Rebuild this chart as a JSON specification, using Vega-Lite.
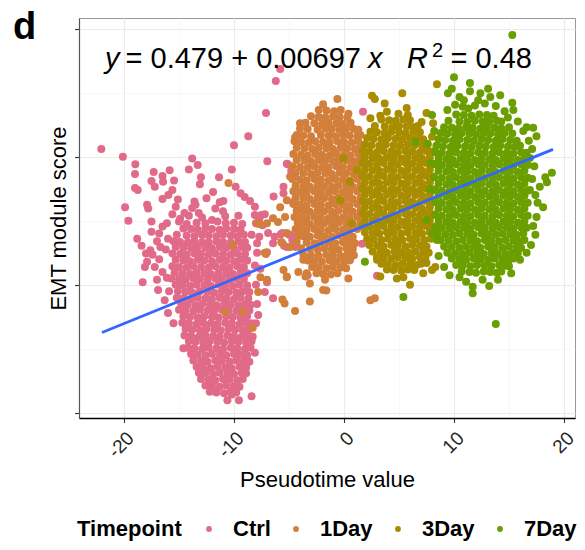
{
  "$schema": "https://vega.github.io/schema/vega-lite/v6.json",
  "width": 496,
  "height": 400,
  "autosize": {"type": "none"},
  "padding": {"left": 79, "top": 18, "right": 10, "bottom": 132},
  "title": {"text": "d", "anchor": "start", "frame": "group", "orient": "top", "offset": 0, "dx": -66, "dy": 59, "baseline": "alphabetic", "fontSize": 38, "fontWeight": "bold", "color": "black", "font": "Liberation Sans"},
  "config": {
    "font": "Liberation Sans",
    "view": {"stroke": "#999999", "strokeWidth": 1}
  },
  "datasets": {
    "ctrl": [
      {"x":-14.6,"y":0.488},{"x":-13.9,"y":0.487},{"x":-13.3,"y":0.486},{"x":-12.6,"y":0.488},{"x":-12.0,"y":0.487},{"x":-11.3,"y":0.486},{"x":-10.7,"y":0.488},{"x":-10.0,"y":0.487},{"x":-9.4,"y":0.486},
      {"x":-15.2,"y":0.478},{"x":-14.3,"y":0.477},{"x":-13.6,"y":0.476},{"x":-12.9,"y":0.478},{"x":-12.3,"y":0.477},{"x":-11.6,"y":0.476},{"x":-11.0,"y":0.478},{"x":-10.3,"y":0.477},{"x":-9.7,"y":0.476},{"x":-9.1,"y":0.478},
      {"x":-15.5,"y":0.468},{"x":-14.9,"y":0.467},{"x":-14.2,"y":0.466},{"x":-13.6,"y":0.468},{"x":-12.9,"y":0.467},{"x":-12.3,"y":0.466},{"x":-11.6,"y":0.468},{"x":-11.0,"y":0.467},{"x":-10.3,"y":0.466},{"x":-9.6,"y":0.468},{"x":-9.0,"y":0.467},
      {"x":-15.3,"y":0.459},{"x":-14.6,"y":0.458},{"x":-13.9,"y":0.457},{"x":-13.3,"y":0.459},{"x":-12.6,"y":0.458},{"x":-12.0,"y":0.457},{"x":-11.3,"y":0.459},{"x":-10.7,"y":0.458},{"x":-10.0,"y":0.457},{"x":-9.3,"y":0.459},{"x":-8.8,"y":0.458},
      {"x":-15.6,"y":0.449},{"x":-14.9,"y":0.448},{"x":-14.3,"y":0.447},{"x":-13.6,"y":0.449},{"x":-13.0,"y":0.448},{"x":-12.3,"y":0.447},{"x":-11.7,"y":0.449},{"x":-11.0,"y":0.448},{"x":-10.3,"y":0.447},{"x":-9.7,"y":0.449},{"x":-9.0,"y":0.448},
      {"x":-15.3,"y":0.439},{"x":-14.6,"y":0.438},{"x":-14.0,"y":0.437},{"x":-13.3,"y":0.439},{"x":-12.7,"y":0.438},{"x":-12.0,"y":0.437},{"x":-11.3,"y":0.439},{"x":-10.7,"y":0.438},{"x":-10.0,"y":0.437},{"x":-9.4,"y":0.439},{"x":-8.8,"y":0.438},
      {"x":-15.6,"y":0.429},{"x":-15.0,"y":0.428},{"x":-14.3,"y":0.427},{"x":-13.7,"y":0.429},{"x":-13.0,"y":0.428},{"x":-12.3,"y":0.427},{"x":-11.7,"y":0.429},{"x":-11.0,"y":0.428},{"x":-10.4,"y":0.427},{"x":-9.7,"y":0.429},{"x":-9.1,"y":0.428},
      {"x":-15.4,"y":0.419},{"x":-14.7,"y":0.418},{"x":-14.0,"y":0.417},{"x":-13.4,"y":0.419},{"x":-12.7,"y":0.418},{"x":-12.1,"y":0.417},{"x":-11.4,"y":0.419},{"x":-10.7,"y":0.418},{"x":-10.1,"y":0.417},{"x":-9.4,"y":0.419},{"x":-8.8,"y":0.418},
      {"x":-15.7,"y":0.410},{"x":-15.0,"y":0.409},{"x":-14.4,"y":0.408},{"x":-13.7,"y":0.410},{"x":-13.1,"y":0.409},{"x":-12.4,"y":0.408},{"x":-11.7,"y":0.410},{"x":-11.1,"y":0.409},{"x":-10.4,"y":0.408},{"x":-9.8,"y":0.410},{"x":-9.1,"y":0.409},
      {"x":-15.3,"y":0.400},{"x":-14.7,"y":0.399},{"x":-14.0,"y":0.398},{"x":-13.4,"y":0.400},{"x":-12.7,"y":0.399},{"x":-12.1,"y":0.398},{"x":-11.4,"y":0.400},{"x":-10.8,"y":0.399},{"x":-10.1,"y":0.398},{"x":-9.5,"y":0.400},{"x":-8.8,"y":0.399},
      {"x":-15.1,"y":0.390},{"x":-14.4,"y":0.389},{"x":-13.8,"y":0.388},{"x":-13.1,"y":0.390},{"x":-12.4,"y":0.389},{"x":-11.8,"y":0.388},{"x":-11.1,"y":0.390},{"x":-10.5,"y":0.389},{"x":-9.8,"y":0.388},{"x":-9.2,"y":0.390},{"x":-8.6,"y":0.389},
      {"x":-15.2,"y":0.380},{"x":-14.6,"y":0.379},{"x":-13.9,"y":0.378},{"x":-13.3,"y":0.380},{"x":-12.6,"y":0.379},{"x":-12.0,"y":0.378},{"x":-11.3,"y":0.380},{"x":-10.7,"y":0.379},{"x":-10.0,"y":0.378},{"x":-9.4,"y":0.380},{"x":-8.7,"y":0.379},
      {"x":-14.8,"y":0.370},{"x":-14.2,"y":0.369},{"x":-13.5,"y":0.368},{"x":-12.9,"y":0.370},{"x":-12.2,"y":0.369},{"x":-11.6,"y":0.368},{"x":-10.9,"y":0.370},{"x":-10.3,"y":0.369},{"x":-9.6,"y":0.368},{"x":-9.0,"y":0.370},{"x":-8.5,"y":0.369},
      {"x":-15.0,"y":0.361},{"x":-14.4,"y":0.360},{"x":-13.7,"y":0.359},{"x":-13.1,"y":0.361},{"x":-12.4,"y":0.360},{"x":-11.8,"y":0.359},{"x":-11.1,"y":0.361},{"x":-10.5,"y":0.360},{"x":-9.8,"y":0.359},{"x":-9.2,"y":0.361},{"x":-8.6,"y":0.360},
      {"x":-14.6,"y":0.351},{"x":-14.0,"y":0.350},{"x":-13.3,"y":0.349},{"x":-12.7,"y":0.351},{"x":-12.0,"y":0.350},{"x":-11.4,"y":0.349},{"x":-10.7,"y":0.351},{"x":-10.1,"y":0.350},{"x":-9.4,"y":0.349},{"x":-8.8,"y":0.351},
      {"x":-14.7,"y":0.341},{"x":-14.1,"y":0.340},{"x":-13.4,"y":0.339},{"x":-12.8,"y":0.341},{"x":-12.1,"y":0.340},{"x":-11.5,"y":0.339},{"x":-10.8,"y":0.341},{"x":-10.2,"y":0.340},{"x":-9.5,"y":0.339},{"x":-8.9,"y":0.341},{"x":-8.4,"y":0.340},
      {"x":-14.4,"y":0.331},{"x":-13.8,"y":0.330},{"x":-13.1,"y":0.329},{"x":-12.5,"y":0.331},{"x":-11.8,"y":0.330},{"x":-11.2,"y":0.329},{"x":-10.5,"y":0.331},{"x":-9.9,"y":0.330},{"x":-9.2,"y":0.329},{"x":-8.6,"y":0.331},
      {"x":-14.5,"y":0.321},{"x":-13.9,"y":0.320},{"x":-13.2,"y":0.319},{"x":-12.6,"y":0.321},{"x":-11.9,"y":0.320},{"x":-11.3,"y":0.319},{"x":-10.6,"y":0.321},{"x":-10.0,"y":0.320},{"x":-9.3,"y":0.319},{"x":-8.7,"y":0.321},
      {"x":-14.1,"y":0.312},{"x":-13.5,"y":0.311},{"x":-12.8,"y":0.310},{"x":-12.2,"y":0.312},{"x":-11.5,"y":0.311},{"x":-10.9,"y":0.310},{"x":-10.2,"y":0.312},{"x":-9.6,"y":0.311},{"x":-8.9,"y":0.310},{"x":-8.4,"y":0.312},
      {"x":-14.2,"y":0.302},{"x":-13.6,"y":0.301},{"x":-12.9,"y":0.300},{"x":-12.3,"y":0.302},{"x":-11.6,"y":0.301},{"x":-11.0,"y":0.300},{"x":-10.3,"y":0.302},{"x":-9.7,"y":0.301},{"x":-9.0,"y":0.300},{"x":-8.5,"y":0.302},
      {"x":-13.9,"y":0.292},{"x":-13.3,"y":0.291},{"x":-12.6,"y":0.290},{"x":-12.0,"y":0.292},{"x":-11.3,"y":0.291},{"x":-10.7,"y":0.290},{"x":-10.0,"y":0.292},{"x":-9.4,"y":0.291},{"x":-8.8,"y":0.290},
      {"x":-13.7,"y":0.282},{"x":-13.0,"y":0.281},{"x":-12.4,"y":0.280},{"x":-11.7,"y":0.282},{"x":-11.1,"y":0.281},{"x":-10.4,"y":0.280},{"x":-9.8,"y":0.282},{"x":-9.1,"y":0.281},{"x":-8.6,"y":0.280},
      {"x":-13.4,"y":0.272},{"x":-12.8,"y":0.271},{"x":-12.1,"y":0.270},{"x":-11.5,"y":0.272},{"x":-10.8,"y":0.271},{"x":-10.2,"y":0.270},{"x":-9.5,"y":0.272},{"x":-8.9,"y":0.271},
      {"x":-13.2,"y":0.263},{"x":-12.6,"y":0.262},{"x":-11.9,"y":0.261},{"x":-11.3,"y":0.263},{"x":-10.6,"y":0.262},{"x":-10.0,"y":0.261},{"x":-9.3,"y":0.263},{"x":-8.9,"y":0.262},
      {"x":-13.0,"y":0.253},{"x":-12.3,"y":0.252},{"x":-11.7,"y":0.251},{"x":-11.0,"y":0.253},{"x":-10.4,"y":0.252},{"x":-9.7,"y":0.251},{"x":-9.2,"y":0.253},
      {"x":-12.6,"y":0.243},{"x":-12.0,"y":0.242},{"x":-11.3,"y":0.241},{"x":-10.7,"y":0.243},{"x":-10.0,"y":0.242},{"x":-9.5,"y":0.241},
      {"x":-12.2,"y":0.233},{"x":-11.6,"y":0.232},{"x":-10.9,"y":0.231},{"x":-10.3,"y":0.233},{"x":-9.8,"y":0.232},
      {"x":-11.9,"y":0.236},{"x":-10.6,"y":0.220},{"x":-10.2,"y":0.229},{"x":-9.55,"y":0.220},{"x":-8.4,"y":0.226},
      {"x":-5.8,"y":0.737},{"x":-6.2,"y":0.718},{"x":-7.09,"y":0.668},{"x":-8.7,"y":0.632},{"x":-10.0,"y":0.618},{"x":-22.06,"y":0.612},{"x":-20.1,"y":0.600},{"x":-6.97,"y":0.593},{"x":-18.97,"y":0.588},{"x":-19.0,"y":0.573},
      {"x":-13.8,"y":0.597},{"x":-14.1,"y":0.580},{"x":-13.3,"y":0.587},{"x":-17.3,"y":0.576},{"x":-15.85,"y":0.579},{"x":-16.5,"y":0.570},{"x":-16.45,"y":0.561},{"x":-15.45,"y":0.563},{"x":-17.5,"y":0.562},{"x":-13.0,"y":0.568},
      {"x":-11.36,"y":0.568},{"x":-10.2,"y":0.580},{"x":-13.1,"y":0.557},{"x":-19.0,"y":0.551},{"x":-18.75,"y":0.548},{"x":-17.2,"y":0.553},{"x":-15.6,"y":0.548},{"x":-15.97,"y":0.540},{"x":-11.9,"y":0.545},{"x":-16.5,"y":0.534},
      {"x":-15.1,"y":0.533},{"x":-13.6,"y":0.530},{"x":-13.5,"y":0.525},{"x":-12.5,"y":0.535},{"x":-10.97,"y":0.531},{"x":-11.3,"y":0.529},{"x":-9.85,"y":0.553},{"x":-9.4,"y":0.543},{"x":-9.03,"y":0.537},{"x":-8.55,"y":0.531},
      {"x":-19.9,"y":0.521},{"x":-17.9,"y":0.525},{"x":-17.8,"y":0.519},{"x":-15.3,"y":0.522},{"x":-14.5,"y":0.512},{"x":-14.1,"y":0.508},{"x":-13.8,"y":0.520},{"x":-11.7,"y":0.519},{"x":-10.8,"y":0.507},{"x":-8.1,"y":0.522},
      {"x":-7.5,"y":0.509},{"x":-7.2,"y":0.510},{"x":-19.6,"y":0.500},{"x":-17.5,"y":0.499},{"x":-17.5,"y":0.483},{"x":-15.6,"y":0.510},{"x":-15.0,"y":0.499},{"x":-16.5,"y":0.491},{"x":-16.1,"y":0.496},{"x":-13.2,"y":0.512},
      {"x":-13.4,"y":0.497},{"x":-12.6,"y":0.496},{"x":-11.5,"y":0.499},{"x":-10.75,"y":0.496},{"x":-10.0,"y":0.497},{"x":-9.25,"y":0.495},{"x":-8.0,"y":0.496},{"x":-7.7,"y":0.475},{"x":-7.9,"y":0.465},{"x":-8.4,"y":0.478},
      {"x":-7.7,"y":0.503},{"x":-18.4,"y":0.461},{"x":-17.4,"y":0.447},{"x":-16.7,"y":0.459},{"x":-18.0,"y":0.449},{"x":-5.1,"y":0.588},{"x":-6.4,"y":0.538},{"x":-5.5,"y":0.553},{"x":-5.5,"y":0.543},{"x":-6.3,"y":0.475},
      {"x":-5.75,"y":0.479},{"x":-5.0,"y":0.478},{"x":-5.45,"y":0.461},{"x":-4.7,"y":0.470},{"x":-4.4,"y":0.480},{"x":-4.8,"y":0.578},{"x":-4.5,"y":0.569},{"x":-4.45,"y":0.531},
      {"x":-8.1,"y":0.509},{"x":-7.4,"y":0.493},{"x":-6.9,"y":0.481},{"x":-6.45,"y":0.465},{"x":-7.0,"y":0.451},{"x":-7.9,"y":0.450},{"x":-7.0,"y":0.404},{"x":-7.2,"y":0.389},{"x":-6.45,"y":0.379},{"x":-7.8,"y":0.353},
      {"x":-8.3,"y":0.319},{"x":-8.1,"y":0.294},{"x":-8.7,"y":0.333},{"x":-8.0,"y":0.400},{"x":-7.9,"y":0.370},{"x":-8.0,"y":0.340},{"x":-8.1,"y":0.430},{"x":-7.6,"y":0.425},
      {"x":-18.3,"y":0.404},{"x":-18.1,"y":0.428},{"x":-17.6,"y":0.454},{"x":-17.0,"y":0.408},{"x":-17.2,"y":0.428},{"x":-16.1,"y":0.411},{"x":-15.5,"y":0.340},{"x":-14.6,"y":0.301},{"x":-16.0,"y":0.356},{"x":-16.3,"y":0.376},
      {"x":-14.9,"y":0.503},{"x":-12.9,"y":0.505},{"x":-12.0,"y":0.501},{"x":-11.0,"y":0.515},{"x":-9.6,"y":0.508},{"x":-14.3,"y":0.495},{"x":-16.8,"y":0.480},{"x":-17.0,"y":0.468},{"x":-16.0,"y":0.472},{"x":-18.8,"y":0.472},
      {"x":-17.9,"y":0.436},{"x":-16.8,"y":0.440},{"x":-16.9,"y":0.392},{"x":-16.5,"y":0.420},{"x":-15.9,"y":0.390},{"x":-16.2,"y":0.455},
      {"x":-5.6,"y":0.481},{"x":-4.45,"y":0.481},{"x":-5.2,"y":0.459},{"x":-4.4,"y":0.459},{"x":1.64,"y":0.464},{"x":3.0,"y":0.414},{"x":0.55,"y":0.439},{"x":-3.3,"y":0.415},{"x":1.73,"y":0.670},{"x":-5.2,"y":0.589},{"x":-4.6,"y":0.529}
    ],
    "day1": [
      {"x":-2.3,"y":0.673},{"x":-1.6,"y":0.672},{"x":-0.9,"y":0.671},{"x":-0.3,"y":0.673},
      {"x":-3.0,"y":0.663},{"x":-2.3,"y":0.662},{"x":-1.7,"y":0.661},{"x":-1.0,"y":0.663},{"x":-0.4,"y":0.662},{"x":0.3,"y":0.661},
      {"x":-3.5,"y":0.653},{"x":-2.7,"y":0.652},{"x":-2.0,"y":0.651},{"x":-1.4,"y":0.653},{"x":-0.7,"y":0.652},{"x":-0.1,"y":0.651},{"x":0.6,"y":0.653},
      {"x":-4.0,"y":0.644},{"x":-3.3,"y":0.643},{"x":-2.4,"y":0.642},{"x":-1.7,"y":0.644},{"x":-1.1,"y":0.643},{"x":-0.4,"y":0.642},{"x":0.2,"y":0.644},{"x":0.9,"y":0.643},{"x":1.3,"y":0.642},
      {"x":-4.3,"y":0.634},{"x":-3.7,"y":0.633},{"x":-3.0,"y":0.632},{"x":-2.1,"y":0.634},{"x":-1.4,"y":0.633},{"x":-0.8,"y":0.632},{"x":-0.1,"y":0.634},{"x":0.5,"y":0.633},{"x":1.2,"y":0.632},{"x":1.5,"y":0.634},
      {"x":-4.5,"y":0.624},{"x":-3.9,"y":0.623},{"x":-3.2,"y":0.622},{"x":-2.6,"y":0.624},{"x":-1.9,"y":0.623},{"x":-1.3,"y":0.622},{"x":-0.6,"y":0.624},{"x":0.0,"y":0.623},{"x":0.7,"y":0.622},{"x":1.3,"y":0.624},
      {"x":-4.3,"y":0.614},{"x":-3.6,"y":0.613},{"x":-2.9,"y":0.612},{"x":-2.3,"y":0.614},{"x":-1.6,"y":0.613},{"x":-1.0,"y":0.612},{"x":-0.3,"y":0.614},{"x":0.3,"y":0.613},{"x":1.0,"y":0.612},{"x":1.5,"y":0.614},
      {"x":-4.6,"y":0.604},{"x":-3.9,"y":0.603},{"x":-3.3,"y":0.602},{"x":-2.6,"y":0.604},{"x":-2.0,"y":0.603},{"x":-1.3,"y":0.602},{"x":-0.7,"y":0.604},{"x":0.0,"y":0.603},{"x":0.6,"y":0.602},{"x":1.3,"y":0.604},
      {"x":-4.3,"y":0.595},{"x":-3.6,"y":0.594},{"x":-3.0,"y":0.593},{"x":-2.3,"y":0.595},{"x":-1.7,"y":0.594},{"x":-1.0,"y":0.593},{"x":-0.4,"y":0.595},{"x":0.3,"y":0.594},{"x":0.9,"y":0.593},{"x":1.5,"y":0.595},
      {"x":-4.7,"y":0.585},{"x":-4.0,"y":0.584},{"x":-3.3,"y":0.583},{"x":-2.7,"y":0.585},{"x":-2.0,"y":0.584},{"x":-1.4,"y":0.583},{"x":-0.7,"y":0.585},{"x":-0.1,"y":0.584},{"x":0.6,"y":0.583},{"x":1.2,"y":0.585},
      {"x":-4.4,"y":0.575},{"x":-3.7,"y":0.574},{"x":-3.0,"y":0.573},{"x":-2.4,"y":0.575},{"x":-1.7,"y":0.574},{"x":-1.1,"y":0.573},{"x":-0.4,"y":0.575},{"x":0.2,"y":0.574},{"x":0.9,"y":0.573},{"x":1.5,"y":0.575},
      {"x":-4.7,"y":0.565},{"x":-4.0,"y":0.564},{"x":-3.4,"y":0.563},{"x":-2.7,"y":0.565},{"x":-2.1,"y":0.564},{"x":-1.4,"y":0.563},{"x":-0.8,"y":0.565},{"x":-0.1,"y":0.564},{"x":0.5,"y":0.563},{"x":1.2,"y":0.565},
      {"x":-4.4,"y":0.555},{"x":-3.7,"y":0.554},{"x":-3.1,"y":0.553},{"x":-2.4,"y":0.555},{"x":-1.8,"y":0.554},{"x":-1.1,"y":0.553},{"x":-0.5,"y":0.555},{"x":0.2,"y":0.554},{"x":0.8,"y":0.553},{"x":1.5,"y":0.555},
      {"x":-4.6,"y":0.546},{"x":-4.0,"y":0.545},{"x":-3.4,"y":0.544},{"x":-2.7,"y":0.546},{"x":-2.1,"y":0.545},{"x":-1.4,"y":0.544},{"x":-0.8,"y":0.546},{"x":-0.1,"y":0.545},{"x":0.5,"y":0.544},{"x":1.2,"y":0.546},
      {"x":-4.4,"y":0.536},{"x":-3.7,"y":0.535},{"x":-3.1,"y":0.534},{"x":-2.4,"y":0.536},{"x":-1.8,"y":0.535},{"x":-1.1,"y":0.534},{"x":-0.5,"y":0.536},{"x":0.2,"y":0.535},{"x":0.8,"y":0.534},{"x":1.5,"y":0.536},
      {"x":-4.6,"y":0.526},{"x":-4.0,"y":0.525},{"x":-3.4,"y":0.524},{"x":-2.7,"y":0.526},{"x":-2.1,"y":0.525},{"x":-1.4,"y":0.524},{"x":-0.8,"y":0.526},{"x":-0.1,"y":0.525},{"x":0.5,"y":0.524},{"x":1.2,"y":0.526},
      {"x":-4.3,"y":0.516},{"x":-3.7,"y":0.515},{"x":-3.1,"y":0.514},{"x":-2.4,"y":0.516},{"x":-1.8,"y":0.515},{"x":-1.1,"y":0.514},{"x":-0.5,"y":0.516},{"x":0.2,"y":0.515},{"x":0.8,"y":0.514},{"x":1.5,"y":0.516},
      {"x":-4.5,"y":0.506},{"x":-4.0,"y":0.505},{"x":-3.4,"y":0.504},{"x":-2.7,"y":0.506},{"x":-2.1,"y":0.505},{"x":-1.4,"y":0.504},{"x":-0.8,"y":0.506},{"x":-0.1,"y":0.505},{"x":0.5,"y":0.504},{"x":1.2,"y":0.506},
      {"x":-4.2,"y":0.497},{"x":-3.7,"y":0.496},{"x":-3.1,"y":0.495},{"x":-2.4,"y":0.497},{"x":-1.8,"y":0.496},{"x":-1.1,"y":0.495},{"x":-0.5,"y":0.497},{"x":0.2,"y":0.496},{"x":0.8,"y":0.495},{"x":1.5,"y":0.497},
      {"x":-4.4,"y":0.487},{"x":-4.0,"y":0.486},{"x":-3.4,"y":0.485},{"x":-2.7,"y":0.487},{"x":-2.1,"y":0.486},{"x":-1.4,"y":0.485},{"x":-0.8,"y":0.487},{"x":-0.1,"y":0.486},{"x":0.5,"y":0.485},{"x":1.2,"y":0.487},
      {"x":-4.1,"y":0.477},{"x":-3.7,"y":0.476},{"x":-3.1,"y":0.475},{"x":-2.4,"y":0.477},{"x":-1.8,"y":0.476},{"x":-1.1,"y":0.475},{"x":-0.5,"y":0.477},{"x":0.2,"y":0.476},{"x":0.8,"y":0.475},
      {"x":-4.3,"y":0.467},{"x":-3.4,"y":0.466},{"x":-2.7,"y":0.465},{"x":-2.1,"y":0.467},{"x":-1.4,"y":0.466},{"x":-0.8,"y":0.465},{"x":-0.1,"y":0.467},{"x":0.5,"y":0.466},{"x":1.0,"y":0.465},
      {"x":-3.9,"y":0.457},{"x":-3.1,"y":0.456},{"x":-2.4,"y":0.455},{"x":-1.8,"y":0.457},{"x":-1.1,"y":0.456},{"x":-0.5,"y":0.455},{"x":0.2,"y":0.457},{"x":0.8,"y":0.456},
      {"x":-3.7,"y":0.447},{"x":-3.0,"y":0.446},{"x":-2.3,"y":0.445},{"x":-1.6,"y":0.447},{"x":-1.0,"y":0.446},{"x":-0.3,"y":0.445},{"x":0.3,"y":0.447},{"x":0.9,"y":0.446},
      {"x":-3.3,"y":0.438},{"x":-2.7,"y":0.437},{"x":-2.0,"y":0.436},{"x":-1.3,"y":0.438},{"x":-0.7,"y":0.437},{"x":0.0,"y":0.436},{"x":0.5,"y":0.438},
      {"x":-2.9,"y":0.428},{"x":-2.3,"y":0.427},{"x":-1.6,"y":0.426},{"x":-1.0,"y":0.428},{"x":-0.3,"y":0.427},{"x":0.2,"y":0.426},
      {"x":-2.5,"y":0.418},{"x":-1.9,"y":0.417},{"x":-1.2,"y":0.416},{"x":-0.6,"y":0.418},
      {"x":-0.6,"y":0.690},{"x":0.4,"y":0.667},{"x":-1.9,"y":0.682},{"x":-4.0,"y":0.652},{"x":-4.45,"y":0.630},{"x":-4.9,"y":0.569},{"x":-5.2,"y":0.532},{"x":-5.36,"y":0.506},{"x":-4.9,"y":0.459},{"x":-3.7,"y":0.439},
      {"x":-1.73,"y":0.408},{"x":0.4,"y":0.410},{"x":-3.4,"y":0.418},{"x":-1.9,"y":0.392},{"x":-1.6,"y":0.391},{"x":2.4,"y":0.376},{"x":2.8,"y":0.379},{"x":-4.45,"y":0.359},{"x":-3.1,"y":0.374},{"x":-5.4,"y":0.371},
      {"x":-5.6,"y":0.377},{"x":-3.1,"y":0.402},{"x":-3.5,"y":0.413},{"x":-5.2,"y":0.413},{"x":-4.15,"y":0.420},
      {"x":-10.5,"y":0.559},{"x":-7.7,"y":0.495},{"x":-6.0,"y":0.498},{"x":-10.1,"y":0.462},{"x":-7.1,"y":0.448},{"x":-5.7,"y":0.467},{"x":-10.8,"y":0.358},{"x":-9.2,"y":0.358},{"x":-8.3,"y":0.333},{"x":-7.8,"y":0.389},
      {"x":-7.9,"y":0.496},{"x":-7.0,"y":0.496},{"x":-6.45,"y":0.504},{"x":-7.2,"y":0.450},{"x":-7.6,"y":0.412},{"x":-7.0,"y":0.408},{"x":-5.6,"y":0.465},{"x":-5.2,"y":0.481},{"x":-5.5,"y":0.423},{"x":-5.2,"y":0.412},{"x":-5.8,"y":0.521}
    ],
    "day3": [
      {"x":3.4,"y":0.658},{"x":4.1,"y":0.657},{"x":4.7,"y":0.656},{"x":5.4,"y":0.658},{"x":6.0,"y":0.657},
      {"x":2.8,"y":0.648},{"x":3.7,"y":0.647},{"x":4.4,"y":0.646},{"x":5.0,"y":0.648},{"x":5.7,"y":0.647},{"x":6.3,"y":0.646},{"x":6.7,"y":0.648},
      {"x":2.4,"y":0.639},{"x":3.0,"y":0.638},{"x":3.7,"y":0.637},{"x":4.3,"y":0.639},{"x":5.0,"y":0.638},{"x":5.6,"y":0.637},{"x":6.3,"y":0.639},{"x":6.9,"y":0.638},
      {"x":2.1,"y":0.629},{"x":2.7,"y":0.628},{"x":3.4,"y":0.627},{"x":4.0,"y":0.629},{"x":4.7,"y":0.628},{"x":5.3,"y":0.627},{"x":6.0,"y":0.629},{"x":6.6,"y":0.628},{"x":7.2,"y":0.627},
      {"x":1.9,"y":0.619},{"x":2.5,"y":0.618},{"x":3.2,"y":0.617},{"x":3.8,"y":0.619},{"x":4.5,"y":0.618},{"x":5.1,"y":0.617},{"x":5.8,"y":0.619},{"x":6.4,"y":0.618},{"x":7.1,"y":0.617},{"x":7.6,"y":0.619},
      {"x":1.7,"y":0.609},{"x":2.3,"y":0.608},{"x":3.0,"y":0.607},{"x":3.6,"y":0.609},{"x":4.3,"y":0.608},{"x":4.9,"y":0.607},{"x":5.6,"y":0.609},{"x":6.2,"y":0.608},{"x":6.9,"y":0.607},{"x":7.5,"y":0.609},{"x":8.0,"y":0.608},
      {"x":1.9,"y":0.599},{"x":2.6,"y":0.598},{"x":3.2,"y":0.597},{"x":3.9,"y":0.599},{"x":4.5,"y":0.598},{"x":5.2,"y":0.597},{"x":5.8,"y":0.599},{"x":6.5,"y":0.598},{"x":7.1,"y":0.597},{"x":7.8,"y":0.599},
      {"x":1.7,"y":0.590},{"x":2.3,"y":0.589},{"x":3.0,"y":0.588},{"x":3.6,"y":0.590},{"x":4.3,"y":0.589},{"x":4.9,"y":0.588},{"x":5.6,"y":0.590},{"x":6.2,"y":0.589},{"x":6.9,"y":0.588},{"x":7.5,"y":0.590},{"x":8.1,"y":0.589},
      {"x":1.9,"y":0.580},{"x":2.6,"y":0.579},{"x":3.2,"y":0.578},{"x":3.9,"y":0.580},{"x":4.5,"y":0.579},{"x":5.2,"y":0.578},{"x":5.8,"y":0.580},{"x":6.5,"y":0.579},{"x":7.1,"y":0.578},{"x":7.8,"y":0.580},
      {"x":1.7,"y":0.570},{"x":2.3,"y":0.569},{"x":3.0,"y":0.568},{"x":3.6,"y":0.570},{"x":4.3,"y":0.569},{"x":4.9,"y":0.568},{"x":5.6,"y":0.570},{"x":6.2,"y":0.569},{"x":6.9,"y":0.568},{"x":7.5,"y":0.570},{"x":8.1,"y":0.569},
      {"x":1.9,"y":0.560},{"x":2.6,"y":0.559},{"x":3.2,"y":0.558},{"x":3.9,"y":0.560},{"x":4.5,"y":0.559},{"x":5.2,"y":0.558},{"x":5.8,"y":0.560},{"x":6.5,"y":0.559},{"x":7.1,"y":0.558},{"x":7.8,"y":0.560},
      {"x":1.7,"y":0.550},{"x":2.3,"y":0.549},{"x":3.0,"y":0.548},{"x":3.6,"y":0.550},{"x":4.3,"y":0.549},{"x":4.9,"y":0.548},{"x":5.6,"y":0.550},{"x":6.2,"y":0.549},{"x":6.9,"y":0.548},{"x":7.5,"y":0.550},{"x":8.1,"y":0.549},
      {"x":1.9,"y":0.541},{"x":2.6,"y":0.540},{"x":3.2,"y":0.539},{"x":3.9,"y":0.541},{"x":4.5,"y":0.540},{"x":5.2,"y":0.539},{"x":5.8,"y":0.541},{"x":6.5,"y":0.540},{"x":7.1,"y":0.539},{"x":7.8,"y":0.541},
      {"x":1.7,"y":0.531},{"x":2.3,"y":0.530},{"x":3.0,"y":0.529},{"x":3.6,"y":0.531},{"x":4.3,"y":0.530},{"x":4.9,"y":0.529},{"x":5.6,"y":0.531},{"x":6.2,"y":0.530},{"x":6.9,"y":0.529},{"x":7.5,"y":0.531},{"x":8.1,"y":0.530},
      {"x":1.9,"y":0.521},{"x":2.6,"y":0.520},{"x":3.2,"y":0.519},{"x":3.9,"y":0.521},{"x":4.5,"y":0.520},{"x":5.2,"y":0.519},{"x":5.8,"y":0.521},{"x":6.5,"y":0.520},{"x":7.1,"y":0.519},{"x":7.8,"y":0.521},
      {"x":1.7,"y":0.511},{"x":2.3,"y":0.510},{"x":3.0,"y":0.509},{"x":3.6,"y":0.511},{"x":4.3,"y":0.510},{"x":4.9,"y":0.509},{"x":5.6,"y":0.511},{"x":6.2,"y":0.510},{"x":6.9,"y":0.509},{"x":7.5,"y":0.511},{"x":8.1,"y":0.510},
      {"x":1.9,"y":0.501},{"x":2.6,"y":0.500},{"x":3.2,"y":0.499},{"x":3.9,"y":0.501},{"x":4.5,"y":0.500},{"x":5.2,"y":0.499},{"x":5.8,"y":0.501},{"x":6.5,"y":0.500},{"x":7.1,"y":0.499},{"x":7.8,"y":0.501},
      {"x":1.7,"y":0.492},{"x":2.3,"y":0.491},{"x":3.0,"y":0.490},{"x":3.6,"y":0.492},{"x":4.3,"y":0.491},{"x":4.9,"y":0.490},{"x":5.6,"y":0.492},{"x":6.2,"y":0.491},{"x":6.9,"y":0.490},{"x":7.5,"y":0.492},{"x":8.1,"y":0.491},
      {"x":1.9,"y":0.482},{"x":2.6,"y":0.481},{"x":3.2,"y":0.480},{"x":3.9,"y":0.482},{"x":4.5,"y":0.481},{"x":5.2,"y":0.480},{"x":5.8,"y":0.482},{"x":6.5,"y":0.481},{"x":7.1,"y":0.480},{"x":7.8,"y":0.482},
      {"x":2.1,"y":0.472},{"x":2.7,"y":0.471},{"x":3.4,"y":0.470},{"x":4.0,"y":0.472},{"x":4.7,"y":0.471},{"x":5.3,"y":0.470},{"x":6.0,"y":0.472},{"x":6.6,"y":0.471},{"x":7.3,"y":0.470},{"x":7.9,"y":0.472},
      {"x":2.3,"y":0.462},{"x":3.0,"y":0.461},{"x":3.6,"y":0.460},{"x":4.3,"y":0.462},{"x":4.9,"y":0.461},{"x":5.6,"y":0.460},{"x":6.2,"y":0.462},{"x":6.9,"y":0.461},{"x":7.5,"y":0.460},
      {"x":2.6,"y":0.452},{"x":3.3,"y":0.451},{"x":3.9,"y":0.450},{"x":4.6,"y":0.452},{"x":5.2,"y":0.451},{"x":5.9,"y":0.450},{"x":6.5,"y":0.452},{"x":7.2,"y":0.451},{"x":7.7,"y":0.450},
      {"x":3.0,"y":0.443},{"x":3.6,"y":0.442},{"x":4.3,"y":0.441},{"x":4.9,"y":0.443},{"x":5.6,"y":0.442},{"x":6.2,"y":0.441},{"x":6.9,"y":0.443},{"x":7.4,"y":0.442},
      {"x":3.4,"y":0.433},{"x":4.0,"y":0.432},{"x":4.7,"y":0.431},{"x":5.3,"y":0.433},{"x":6.0,"y":0.432},{"x":6.6,"y":0.431},{"x":7.0,"y":0.433},
      {"x":3.9,"y":0.424},{"x":4.5,"y":0.423},{"x":5.2,"y":0.422},{"x":5.8,"y":0.424},{"x":6.4,"y":0.423},
      {"x":8.45,"y":0.713},{"x":5.3,"y":0.699},{"x":2.55,"y":0.695},{"x":2.8,"y":0.690},{"x":5.7,"y":0.676},{"x":3.7,"y":0.683},{"x":3.9,"y":0.670},{"x":3.3,"y":0.664},{"x":4.95,"y":0.667},{"x":5.8,"y":0.665},
      {"x":7.06,"y":0.654},{"x":7.5,"y":0.668},{"x":8.1,"y":0.652},{"x":8.0,"y":0.631},{"x":2.4,"y":0.660},
      {"x":-0.06,"y":0.597},{"x":0.55,"y":0.561},{"x":-0.36,"y":0.532},{"x":0.7,"y":0.496},{"x":1.15,"y":0.579},
      {"x":6.0,"y":0.400},{"x":4.8,"y":0.410},{"x":8.0,"y":0.423},{"x":7.2,"y":0.418},{"x":3.3,"y":0.413},{"x":5.4,"y":0.412},{"x":8.3,"y":0.428},{"x":7.5,"y":0.434},{"x":3.0,"y":0.439}
    ],
    "day7": [
      {"x":10.2,"y":0.666},{"x":10.9,"y":0.665},{"x":11.6,"y":0.664},{"x":12.3,"y":0.666},{"x":13.0,"y":0.665},{"x":13.6,"y":0.664},
      {"x":9.5,"y":0.656},{"x":10.5,"y":0.655},{"x":11.2,"y":0.654},{"x":11.9,"y":0.656},{"x":12.6,"y":0.655},{"x":13.2,"y":0.654},{"x":13.9,"y":0.656},{"x":14.3,"y":0.655},
      {"x":9.1,"y":0.646},{"x":9.8,"y":0.645},{"x":10.4,"y":0.644},{"x":11.1,"y":0.646},{"x":11.7,"y":0.645},{"x":12.4,"y":0.644},{"x":13.0,"y":0.646},{"x":13.7,"y":0.645},{"x":14.3,"y":0.644},{"x":15.0,"y":0.646},
      {"x":8.8,"y":0.637},{"x":9.4,"y":0.636},{"x":10.1,"y":0.635},{"x":10.7,"y":0.637},{"x":11.4,"y":0.636},{"x":12.0,"y":0.635},{"x":12.7,"y":0.637},{"x":13.3,"y":0.636},{"x":14.0,"y":0.635},{"x":14.6,"y":0.637},{"x":15.3,"y":0.636},
      {"x":8.6,"y":0.627},{"x":9.2,"y":0.626},{"x":9.9,"y":0.625},{"x":10.5,"y":0.627},{"x":11.2,"y":0.626},{"x":11.8,"y":0.625},{"x":12.5,"y":0.627},{"x":13.1,"y":0.626},{"x":13.8,"y":0.625},{"x":14.4,"y":0.627},{"x":15.1,"y":0.626},{"x":15.7,"y":0.625},
      {"x":8.4,"y":0.617},{"x":9.0,"y":0.616},{"x":9.7,"y":0.615},{"x":10.3,"y":0.617},{"x":11.0,"y":0.616},{"x":11.6,"y":0.615},{"x":12.3,"y":0.617},{"x":12.9,"y":0.616},{"x":13.6,"y":0.615},{"x":14.2,"y":0.617},{"x":14.9,"y":0.616},{"x":15.5,"y":0.615},{"x":16.0,"y":0.617},
      {"x":8.3,"y":0.607},{"x":8.9,"y":0.606},{"x":9.6,"y":0.605},{"x":10.2,"y":0.607},{"x":10.9,"y":0.606},{"x":11.5,"y":0.605},{"x":12.2,"y":0.607},{"x":12.8,"y":0.606},{"x":13.5,"y":0.605},{"x":14.1,"y":0.607},{"x":14.8,"y":0.606},{"x":15.4,"y":0.605},{"x":16.1,"y":0.607},{"x":16.6,"y":0.606},
      {"x":8.6,"y":0.597},{"x":9.3,"y":0.596},{"x":9.9,"y":0.595},{"x":10.6,"y":0.597},{"x":11.2,"y":0.596},{"x":11.9,"y":0.595},{"x":12.5,"y":0.597},{"x":13.2,"y":0.596},{"x":13.8,"y":0.595},{"x":14.5,"y":0.597},{"x":15.1,"y":0.596},{"x":15.8,"y":0.595},{"x":16.4,"y":0.597},
      {"x":8.3,"y":0.588},{"x":8.9,"y":0.587},{"x":9.6,"y":0.586},{"x":10.2,"y":0.588},{"x":10.9,"y":0.587},{"x":11.5,"y":0.586},{"x":12.2,"y":0.588},{"x":12.8,"y":0.587},{"x":13.5,"y":0.586},{"x":14.1,"y":0.588},{"x":14.8,"y":0.587},{"x":15.4,"y":0.586},{"x":16.1,"y":0.588},{"x":16.7,"y":0.587},
      {"x":8.6,"y":0.578},{"x":9.3,"y":0.577},{"x":9.9,"y":0.576},{"x":10.6,"y":0.578},{"x":11.2,"y":0.577},{"x":11.9,"y":0.576},{"x":12.5,"y":0.578},{"x":13.2,"y":0.577},{"x":13.8,"y":0.576},{"x":14.5,"y":0.578},{"x":15.1,"y":0.577},{"x":15.8,"y":0.576},{"x":16.4,"y":0.578},
      {"x":8.2,"y":0.568},{"x":8.9,"y":0.567},{"x":9.6,"y":0.566},{"x":10.2,"y":0.568},{"x":10.9,"y":0.567},{"x":11.5,"y":0.566},{"x":12.2,"y":0.568},{"x":12.8,"y":0.567},{"x":13.5,"y":0.566},{"x":14.1,"y":0.568},{"x":14.8,"y":0.567},{"x":15.4,"y":0.566},{"x":16.1,"y":0.568},{"x":16.7,"y":0.567},
      {"x":8.6,"y":0.558},{"x":9.3,"y":0.557},{"x":9.9,"y":0.556},{"x":10.6,"y":0.558},{"x":11.2,"y":0.557},{"x":11.9,"y":0.556},{"x":12.5,"y":0.558},{"x":13.2,"y":0.557},{"x":13.8,"y":0.556},{"x":14.5,"y":0.558},{"x":15.1,"y":0.557},{"x":15.8,"y":0.556},{"x":16.4,"y":0.558},
      {"x":8.3,"y":0.548},{"x":8.9,"y":0.547},{"x":9.6,"y":0.546},{"x":10.2,"y":0.548},{"x":10.9,"y":0.547},{"x":11.5,"y":0.546},{"x":12.2,"y":0.548},{"x":12.8,"y":0.547},{"x":13.5,"y":0.546},{"x":14.1,"y":0.548},{"x":14.8,"y":0.547},{"x":15.4,"y":0.546},{"x":16.1,"y":0.548},{"x":16.7,"y":0.547},
      {"x":8.6,"y":0.539},{"x":9.3,"y":0.538},{"x":9.9,"y":0.537},{"x":10.6,"y":0.539},{"x":11.2,"y":0.538},{"x":11.9,"y":0.537},{"x":12.5,"y":0.539},{"x":13.2,"y":0.538},{"x":13.8,"y":0.537},{"x":14.5,"y":0.539},{"x":15.1,"y":0.538},{"x":15.8,"y":0.537},{"x":16.4,"y":0.539},
      {"x":8.3,"y":0.529},{"x":8.9,"y":0.528},{"x":9.6,"y":0.527},{"x":10.2,"y":0.529},{"x":10.9,"y":0.528},{"x":11.5,"y":0.527},{"x":12.2,"y":0.529},{"x":12.8,"y":0.528},{"x":13.5,"y":0.527},{"x":14.1,"y":0.529},{"x":14.8,"y":0.528},{"x":15.4,"y":0.527},{"x":16.1,"y":0.529},{"x":16.7,"y":0.528},
      {"x":8.6,"y":0.519},{"x":9.3,"y":0.518},{"x":9.9,"y":0.517},{"x":10.6,"y":0.519},{"x":11.2,"y":0.518},{"x":11.9,"y":0.517},{"x":12.5,"y":0.519},{"x":13.2,"y":0.518},{"x":13.8,"y":0.517},{"x":14.5,"y":0.519},{"x":15.1,"y":0.518},{"x":15.8,"y":0.517},{"x":16.4,"y":0.519},
      {"x":8.3,"y":0.509},{"x":8.9,"y":0.508},{"x":9.6,"y":0.507},{"x":10.2,"y":0.509},{"x":10.9,"y":0.508},{"x":11.5,"y":0.507},{"x":12.2,"y":0.509},{"x":12.8,"y":0.508},{"x":13.5,"y":0.507},{"x":14.1,"y":0.509},{"x":14.8,"y":0.508},{"x":15.4,"y":0.507},{"x":16.1,"y":0.509},{"x":16.7,"y":0.508},
      {"x":8.6,"y":0.499},{"x":9.3,"y":0.498},{"x":9.9,"y":0.497},{"x":10.6,"y":0.499},{"x":11.2,"y":0.498},{"x":11.9,"y":0.497},{"x":12.5,"y":0.499},{"x":13.2,"y":0.498},{"x":13.8,"y":0.497},{"x":14.5,"y":0.499},{"x":15.1,"y":0.498},{"x":15.8,"y":0.497},{"x":16.4,"y":0.499},
      {"x":8.3,"y":0.490},{"x":8.9,"y":0.489},{"x":9.6,"y":0.488},{"x":10.2,"y":0.490},{"x":10.9,"y":0.489},{"x":11.5,"y":0.488},{"x":12.2,"y":0.490},{"x":12.8,"y":0.489},{"x":13.5,"y":0.488},{"x":14.1,"y":0.490},{"x":14.8,"y":0.489},{"x":15.4,"y":0.488},{"x":16.1,"y":0.490},{"x":16.6,"y":0.489},
      {"x":8.5,"y":0.480},{"x":9.2,"y":0.479},{"x":9.9,"y":0.478},{"x":10.5,"y":0.480},{"x":11.2,"y":0.479},{"x":11.8,"y":0.478},{"x":12.5,"y":0.480},{"x":13.1,"y":0.479},{"x":13.8,"y":0.478},{"x":14.4,"y":0.480},{"x":15.1,"y":0.479},{"x":15.7,"y":0.478},{"x":16.3,"y":0.480},
      {"x":8.8,"y":0.470},{"x":9.5,"y":0.469},{"x":10.2,"y":0.468},{"x":10.8,"y":0.470},{"x":11.5,"y":0.469},{"x":12.1,"y":0.468},{"x":12.8,"y":0.470},{"x":13.4,"y":0.469},{"x":14.1,"y":0.468},{"x":14.7,"y":0.470},{"x":15.4,"y":0.469},{"x":16.0,"y":0.468},{"x":16.4,"y":0.470},
      {"x":9.1,"y":0.460},{"x":9.8,"y":0.459},{"x":10.5,"y":0.458},{"x":11.1,"y":0.460},{"x":11.8,"y":0.459},{"x":12.4,"y":0.458},{"x":13.1,"y":0.460},{"x":13.7,"y":0.459},{"x":14.4,"y":0.458},{"x":15.0,"y":0.460},{"x":15.7,"y":0.459},{"x":16.1,"y":0.458},
      {"x":9.4,"y":0.450},{"x":10.1,"y":0.449},{"x":10.8,"y":0.448},{"x":11.4,"y":0.450},{"x":12.1,"y":0.449},{"x":12.7,"y":0.448},{"x":13.4,"y":0.450},{"x":14.0,"y":0.449},{"x":14.7,"y":0.448},{"x":15.3,"y":0.450},{"x":15.8,"y":0.449},
      {"x":9.8,"y":0.441},{"x":10.5,"y":0.440},{"x":11.1,"y":0.439},{"x":11.8,"y":0.441},{"x":12.4,"y":0.440},{"x":13.1,"y":0.439},{"x":13.7,"y":0.441},{"x":14.4,"y":0.440},{"x":15.0,"y":0.439},{"x":15.4,"y":0.441},
      {"x":10.2,"y":0.431},{"x":10.8,"y":0.430},{"x":11.5,"y":0.429},{"x":12.1,"y":0.431},{"x":12.8,"y":0.430},{"x":13.4,"y":0.429},{"x":14.1,"y":0.431},{"x":14.7,"y":0.430},{"x":15.0,"y":0.429},
      {"x":10.7,"y":0.421},{"x":11.4,"y":0.420},{"x":12.0,"y":0.419},{"x":12.7,"y":0.421},{"x":13.3,"y":0.420},{"x":13.9,"y":0.419},{"x":14.3,"y":0.421},
      {"x":15.3,"y":0.790},{"x":10.0,"y":0.724},{"x":11.45,"y":0.715},{"x":13.1,"y":0.706},{"x":15.3,"y":0.684},{"x":17.2,"y":0.645},{"x":18.9,"y":0.575},{"x":17.4,"y":0.540},{"x":17.4,"y":0.478},{"x":16.6,"y":0.450},
      {"x":14.0,"y":0.408},{"x":13.8,"y":0.339},{"x":11.7,"y":0.387},{"x":5.4,"y":0.381},{"x":11.7,"y":0.397},{"x":11.45,"y":0.702},{"x":9.45,"y":0.699},{"x":9.8,"y":0.706},{"x":10.5,"y":0.693},{"x":10.8,"y":0.678},
      {"x":12.4,"y":0.699},{"x":12.2,"y":0.688},{"x":13.3,"y":0.693},{"x":14.2,"y":0.696},{"x":15.4,"y":0.673},{"x":8.0,"y":0.665},{"x":9.4,"y":0.673},{"x":17.5,"y":0.632},{"x":18.3,"y":0.568},{"x":18.45,"y":0.560},
      {"x":7.6,"y":0.620},{"x":16.6,"y":0.646},{"x":17.8,"y":0.553},{"x":17.6,"y":0.528},{"x":18.1,"y":0.521},{"x":17.5,"y":0.506},{"x":16.0,"y":0.439},{"x":10.5,"y":0.412},{"x":9.6,"y":0.415},{"x":7.5,"y":0.501},
      {"x":6.5,"y":0.623},{"x":8.45,"y":0.470},{"x":1.9,"y":0.436},
      {"x":10.9,"y":0.688},{"x":11.9,"y":0.680},{"x":12.8,"y":0.683},{"x":13.8,"y":0.679},{"x":14.6,"y":0.671},{"x":10.1,"y":0.681},{"x":11.3,"y":0.675},{"x":14.9,"y":0.661},{"x":15.8,"y":0.655},{"x":16.3,"y":0.640},
      {"x":16.8,"y":0.625},{"x":17.1,"y":0.612},{"x":16.9,"y":0.598},{"x":17.3,"y":0.585},{"x":17.1,"y":0.565},{"x":16.9,"y":0.548},{"x":17.2,"y":0.492},{"x":17.0,"y":0.462},{"x":15.2,"y":0.418},{"x":12.6,"y":0.408},
      {"x":13.2,"y":0.398},{"x":11.1,"y":0.405},{"x":9.1,"y":0.428},{"x":8.6,"y":0.445},{"x":8.0,"y":0.480},{"x":7.8,"y":0.550},{"x":7.9,"y":0.590},{"x":8.2,"y":0.640}
    ],
    "fit": [
      {"x":-22.0,"y":0.3257},
      {"x":19.0,"y":0.6114}
    ]
  },
  "layer": [
    {
      "data": {"name": "ctrl"},
      "mark": {"type": "circle", "size": 64, "opacity": 1},
      "encoding": {
        "x": {
          "field": "x",
          "type": "quantitative",
          "scale": {"domain": [-24.09, 21.0], "nice": false, "zero": false},
          "axis": {
            "title": "Pseudotime value",
            "titleFontSize": 22,
            "titleFontWeight": "normal",
            "titleColor": "black",
            "titlePadding": 8,
            "values": [-20, -15, -10, -5, 0, 5, 10, 15, 20],
            "labelExpr": "datum.value % 10 === 0 ? '' + datum.value : ''",
            "labelAngle": -45,
            "labelAlign": "right",
            "labelBaseline": "top",
            "labelFontSize": 19,
            "labelColor": "#222222",
            "labelPadding": 6,
            "labelOverlap": false,
            "labelFlush": false,
            "tickSize": 4.5,
            "tickWidth": 1.1,
            "tickColor": {"condition": {"test": "datum.value % 10 === 0", "value": "#333333"}, "value": "transparent"},
            "gridColor": {"condition": {"test": "datum.value % 10 === 0", "value": "#EBEBEB"}, "value": "#F4F4F4"},
            "gridWidth": {"condition": {"test": "datum.value % 10 === 0", "value": 1.1}, "value": 0.6},
            "domainColor": "black",
            "domainWidth": 1.5
          }
        },
        "y": {
          "field": "y",
          "type": "quantitative",
          "scale": {"domain": [0.1922, 0.8164], "nice": false, "zero": false},
          "axis": {
            "title": "EMT module score",
            "titleFontSize": 22,
            "titleFontWeight": "normal",
            "titleColor": "black",
            "titlePadding": 3,
            "values": [0.2, 0.3, 0.4, 0.5, 0.6, 0.7, 0.8],
            "labels": false,
            "tickSize": 4.5,
            "tickWidth": 1.1,
            "tickColor": {"condition": {"test": "round(datum.value * 10) % 2 === 0", "value": "#333333"}, "value": "transparent"},
            "gridColor": {"condition": {"test": "round(datum.value * 10) % 2 === 0", "value": "#EBEBEB"}, "value": "#F4F4F4"},
            "gridWidth": {"condition": {"test": "round(datum.value * 10) % 2 === 0", "value": 1.1}, "value": 0.6},
            "domainColor": "#555555",
            "domainWidth": 1.2
          }
        },
        "color": {
          "datum": "Ctrl",
          "type": "nominal",
          "scale": {"domain": ["Ctrl", "1Day", "3Day", "7Day"], "range": ["#E16A88", "#D27F3B", "#A88D00", "#6B9E00"]},
          "legend": {
            "orient": "none",
            "legendX": -2,
            "legendY": 500,
            "direction": "horizontal",
            "title": "Timepoint",
            "titleOrient": "left",
            "titleFontSize": 22,
            "titleFontWeight": "bold",
            "titleColor": "black",
            "titlePadding": 16,
            "titleBaseline": "middle",
            "titleAnchor": "middle",
            "labelFontSize": 22,
            "labelFontWeight": "bold",
            "labelColor": "black",
            "labelOffset": 13,
            "columnPadding": 14,
            "symbolType": "circle",
            "symbolSize": 34,
            "symbolStrokeWidth": 0,
            "symbolOpacity": 1
          }
        }
      }
    },
    {
      "data": {"name": "day1"},
      "mark": {"type": "circle", "size": 64, "opacity": 1},
      "encoding": {
        "x": {"field": "x", "type": "quantitative", "title": "Pseudotime value", "scale": {"domain": [-24.09, 21.0], "nice": false, "zero": false}},
        "y": {"field": "y", "type": "quantitative", "title": "EMT module score", "scale": {"domain": [0.1922, 0.8164], "nice": false, "zero": false}},
        "color": {"datum": "1Day", "type": "nominal"}
      }
    },
    {
      "data": {"name": "day3"},
      "mark": {"type": "circle", "size": 64, "opacity": 1},
      "encoding": {
        "x": {"field": "x", "type": "quantitative", "title": "Pseudotime value", "scale": {"domain": [-24.09, 21.0], "nice": false, "zero": false}},
        "y": {"field": "y", "type": "quantitative", "title": "EMT module score", "scale": {"domain": [0.1922, 0.8164], "nice": false, "zero": false}},
        "color": {"datum": "3Day", "type": "nominal"}
      }
    },
    {
      "data": {"name": "day7"},
      "mark": {"type": "circle", "size": 64, "opacity": 1},
      "encoding": {
        "x": {"field": "x", "type": "quantitative", "title": "Pseudotime value", "scale": {"domain": [-24.09, 21.0], "nice": false, "zero": false}},
        "y": {"field": "y", "type": "quantitative", "title": "EMT module score", "scale": {"domain": [0.1922, 0.8164], "nice": false, "zero": false}},
        "color": {"datum": "7Day", "type": "nominal"}
      }
    },
    {
      "data": {"name": "fit"},
      "mark": {"type": "line", "color": "#3366FF", "strokeWidth": 2.8},
      "encoding": {
        "x": {"field": "x", "type": "quantitative", "title": "Pseudotime value", "scale": {"domain": [-24.09, 21.0], "nice": false, "zero": false}},
        "y": {"field": "y", "type": "quantitative", "title": "EMT module score", "scale": {"domain": [0.1922, 0.8164], "nice": false, "zero": false}}
      }
    },
    {
      "data": {"values": [{}]},
      "mark": {"type": "text", "fontSize": 29, "fontStyle": "italic", "align": "left", "baseline": "alphabetic", "color": "black"},
      "encoding": {"x": {"datum": -21.73, "type": "quantitative"}, "y": {"datum": 0.7379, "type": "quantitative"}, "text": {"value": "y"}}
    },
    {
      "data": {"values": [{}]},
      "mark": {"type": "text", "fontSize": 29, "align": "left", "baseline": "alphabetic", "color": "black"},
      "encoding": {"x": {"datum": -19.86, "type": "quantitative"}, "y": {"datum": 0.7379, "type": "quantitative"}, "text": {"value": "= 0.479 + 0.00697"}}
    },
    {
      "data": {"values": [{}]},
      "mark": {"type": "text", "fontSize": 29, "fontStyle": "italic", "align": "left", "baseline": "alphabetic", "color": "black"},
      "encoding": {"x": {"datum": 2.18, "type": "quantitative"}, "y": {"datum": 0.7379, "type": "quantitative"}, "text": {"value": "x"}}
    },
    {
      "data": {"values": [{}]},
      "mark": {"type": "text", "fontSize": 29, "fontStyle": "italic", "align": "left", "baseline": "alphabetic", "color": "black"},
      "encoding": {"x": {"datum": 5.73, "type": "quantitative"}, "y": {"datum": 0.7379, "type": "quantitative"}, "text": {"value": "R"}}
    },
    {
      "data": {"values": [{}]},
      "mark": {"type": "text", "fontSize": 20, "align": "left", "baseline": "alphabetic", "color": "black"},
      "encoding": {"x": {"datum": 8.0, "type": "quantitative"}, "y": {"datum": 0.7555, "type": "quantitative"}, "text": {"value": "2"}}
    },
    {
      "data": {"values": [{}]},
      "mark": {"type": "text", "fontSize": 29, "align": "left", "baseline": "alphabetic", "color": "black"},
      "encoding": {"x": {"datum": 9.68, "type": "quantitative"}, "y": {"datum": 0.7379, "type": "quantitative"}, "text": {"value": "= 0.48"}}
    }
  ]
}
